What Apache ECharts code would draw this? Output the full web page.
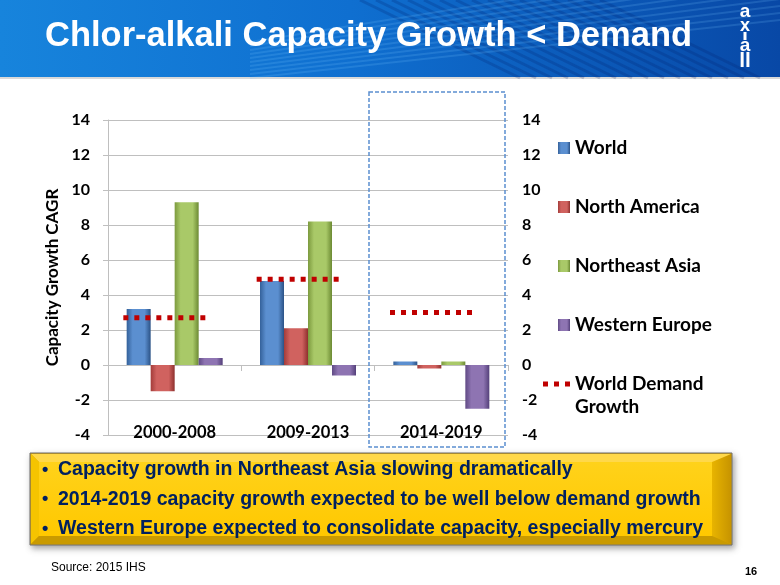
<!DOCTYPE html>
<html>
<head>
<meta charset="utf-8">
<script src="https://cdn.jsdelivr.net/npm/echarts/dist/echarts.min.js"></script>
<style>
html,body{margin:0;padding:0;background:#fff;}
#chart{width:780px;height:585px;}
</style>
</head>
<body>
<div id="chart"></div>
<script>
// ---- data ----
var categories = ['2000-2008', '2009-2013', '2014-2019'];
var world = [3.2, 4.8, 0.2];
var northAmerica = [-1.5, 2.1, -0.2];
var northeastAsia = [9.3, 8.2, 0.2];
var westernEurope = [0.4, -0.6, -2.5];
var worldDemand = [2.7, 4.9, 3.0];
var yTicks = { min: -4, max: 14, interval: 2 };
var bullets = [
  'Capacity growth in Northeast Asia slowing dramatically',
  '2014-2019 capacity growth expected to be well below demand growth',
  'Western Europe expected to consolidate capacity, especially mercury'
];

var calibri = 'Lato, "Open Sans", sans-serif';
var arial = '"Liberation Sans", Arial, sans-serif';

function barGrad(dark, mid, dark2) {
  return new echarts.graphic.LinearGradient(0, 0, 1, 0, [
    { offset: 0, color: dark },
    { offset: 0.25, color: mid },
    { offset: 0.75, color: mid },
    { offset: 1, color: dark2 }
  ]);
}

function barSeries(name, data, c) {
  return {
    name: name, type: 'bar', data: data,
    xAxisIndex: 0, yAxisIndex: 0,
    barGap: '0%', barCategoryGap: '28%',
    itemStyle: { color: c },
    emphasis: { disabled: true }
  };
}

var chart = echarts.init(document.getElementById('chart'), null, { renderer: 'canvas' });

// banner stripes
var stripes = [];
for (var i = 0; i < 16; i++) {
  stripes.push({
    type: 'line', silent: true, z: 1,
    shape: { x1: 360 + i * 16, y1: 0, x2: 520 + i * 16, y2: 78 },
    style: { stroke: 'rgba(0,30,110,0.22)', lineWidth: 3 }
  });
}
for (var j = 0; j < 10; j++) {
  stripes.push({
    type: 'line', silent: true, z: 1,
    shape: { x1: 250, y1: 78 - j * 4, x2: 780, y2: 20 - j * 7 },
    style: { stroke: 'rgba(120,200,255,0.18)', lineWidth: 2 }
  });
}

var graphics = [
  { type: 'rect', silent: true, z: 0, shape: { x: 0, y: 0, width: 780, height: 77 },
    style: { fill: new echarts.graphic.LinearGradient(0, 0, 1, 0, [
      { offset: 0, color: '#1784dc' }, { offset: 0.45, color: '#0f6fd0' }, { offset: 1, color: '#0848a6' }]) } },
  { type: 'rect', silent: true, z: 1, shape: { x: 0, y: 77, width: 780, height: 2 }, style: { fill: '#d9d9d9' } }
].concat(stripes).concat([
  { type: 'text', silent: true, z: 5, style: { text: 'Chlor-alkali Capacity Growth < Demand', x: 45, y: 36,
      fill: '#ffffff', font: 'bold 34.5px ' + arial, verticalAlign: 'middle' } },
  // logo
  { type: 'text', silent: true, z: 5, style: { text: 'a', x: 745, y: 12, fill: '#fff', font: 'bold 19px ' + arial, align: 'center', verticalAlign: 'middle' } },
  { type: 'text', silent: true, z: 5, style: { text: 'x', x: 745, y: 26, fill: '#fff', font: 'bold 18px ' + arial, align: 'center', verticalAlign: 'middle' } },
  { type: 'rect', silent: true, z: 5, shape: { x: 743.5, y: 32, width: 3, height: 8 }, style: { fill: '#fff' } },
  { type: 'text', silent: true, z: 5, style: { text: 'a', x: 745, y: 46, fill: '#fff', font: 'bold 19px ' + arial, align: 'center', verticalAlign: 'middle' } },
  { type: 'text', silent: true, z: 5, style: { text: 'll', x: 745, y: 61, fill: '#fff', font: 'bold 21px ' + arial, align: 'center', verticalAlign: 'middle' } },
  // dashed highlight box
  { type: 'rect', silent: true, z: 10, shape: { x: 369, y: 92, width: 136, height: 355 },
    style: { fill: 'none', stroke: '#5b8fd0', lineWidth: 1.5, lineDash: [4, 2] } },
  // bullet box with bevel
  { type: 'rect', silent: true, z: 5, shape: { x: 30, y: 453, width: 702, height: 92 },
    style: { fill: '#e0a800', stroke: '#6f6f6f', lineWidth: 1, shadowBlur: 6, shadowColor: 'rgba(0,0,0,0.35)', shadowOffsetX: 2, shadowOffsetY: 3 } },
  { type: 'polygon', silent: true, z: 6, shape: { points: [[31, 454], [731, 454], [723, 462], [39, 462]] }, style: { fill: '#ffd84a' } },
  { type: 'polygon', silent: true, z: 6, shape: { points: [[31, 454], [39, 462], [39, 536], [31, 544]] }, style: { fill: '#f5c400' } },
  { type: 'polygon', silent: true, z: 6, shape: { points: [[731, 454], [731, 544], [712, 536], [712, 462]] },
    style: { fill: new echarts.graphic.LinearGradient(0, 0, 1, 0, [{ offset: 0, color: '#e8b400' }, { offset: 1, color: '#c79400' }]) } },
  { type: 'polygon', silent: true, z: 6, shape: { points: [[31, 544], [39, 536], [712, 536], [731, 544]] }, style: { fill: '#c99a00' } },
  { type: 'rect', silent: true, z: 6, shape: { x: 39, y: 462, width: 673, height: 74 },
    style: { fill: new echarts.graphic.LinearGradient(0, 0, 0, 1, [{ offset: 0, color: '#ffd21a' }, { offset: 1, color: '#ffc800' }]) } }
]);

bullets.forEach(function (b, k) {
  var y = 470 + k * 29.5;
  graphics.push({ type: 'text', silent: true, z: 8, style: { text: '\u2022', x: 42, y: y, fill: '#002060', font: 'bold 18px ' + arial, verticalAlign: 'middle' } });
  graphics.push({ type: 'text', silent: true, z: 8, style: { text: b, x: 58, y: y, fill: '#002060', font: 'bold 19.5px ' + arial, verticalAlign: 'middle' } });
});
graphics.push({ type: 'text', silent: true, z: 8, style: { text: 'Source: 2015 IHS', x: 51, y: 568, fill: '#000', font: '12px ' + arial, verticalAlign: 'middle' } });
graphics.push({ type: 'text', silent: true, z: 8, style: { text: '16', x: 745, y: 572, fill: '#000', font: 'bold 11px ' + arial, verticalAlign: 'middle' } });
graphics.push({ type: 'text', silent: true, z: 8, style: { text: 'Growth', x: 575, y: 407, fill: '#000', font: 'bold 19px ' + calibri, verticalAlign: 'middle' } });

var option = {
  animation: false,
  backgroundColor: '#ffffff',
  grid: { left: 108, right: 272, top: 120, bottom: 150, containLabel: false },
  legend: [
    {
      data: ['World', 'North America', 'Northeast Asia', 'Western Europe'],
      orient: 'vertical', left: 553, top: 133, itemWidth: 12, itemHeight: 12, itemGap: 39,
      icon: 'rect', selectedMode: false,
      textStyle: { fontFamily: calibri, fontWeight: 'bold', fontSize: 19, color: '#000', lineHeight: 20 }
    },
    {
      data: [{ name: 'World Demand Growth', icon: 'path://M0,0h5v5h-5zM11,0h5v5h-5zM22,0h5v5h-5z' }],
      orient: 'vertical', left: 538, top: 369, itemWidth: 27, itemHeight: 5, selectedMode: false,
      formatter: function () { return 'World Demand'; },
      textStyle: { fontFamily: calibri, fontWeight: 'bold', fontSize: 19, color: '#000', lineHeight: 20 }
    }
  ],
  xAxis: [
    {
      type: 'category', data: categories, position: 'bottom',
      axisLine: { show: false, onZero: false }, axisTick: { show: false },
      axisLabel: { margin: -11, fontFamily: calibri, fontWeight: 'bold', fontSize: 16.5, color: '#000' },
      splitLine: { show: false }
    },
    {
      type: 'category', data: categories, position: 'bottom',
      axisLine: { show: true, onZero: true, lineStyle: { color: '#bfbfbf', width: 1 } },
      axisTick: { show: true, length: 6, lineStyle: { color: '#bfbfbf' } },
      axisLabel: { show: false }, splitLine: { show: false }
    }
  ],
  yAxis: [
    {
      type: 'value', min: yTicks.min, max: yTicks.max, interval: yTicks.interval, position: 'left',
      name: 'Capacity Growth CAGR', nameLocation: 'middle', nameRotate: 90, nameGap: 40,
      nameTextStyle: { fontFamily: calibri, fontWeight: 'bold', fontSize: 17, color: '#000' },
      axisLine: { show: true, lineStyle: { color: '#bfbfbf' } },
      axisTick: { show: true, length: 5, lineStyle: { color: '#bfbfbf' } },
      axisLabel: { margin: 18, fontFamily: calibri, fontWeight: 'bold', fontSize: 16, color: '#000' },
      splitLine: { show: true, lineStyle: { color: '#bfbfbf', width: 1 } }
    },
    {
      type: 'value', min: yTicks.min, max: yTicks.max, interval: yTicks.interval, position: 'right',
      axisLine: { show: false }, axisTick: { show: false }, splitLine: { show: false },
      axisLabel: { margin: 14, fontFamily: calibri, fontWeight: 'bold', fontSize: 16, color: '#000' }
    }
  ],
  series: [
    barSeries('World', world, barGrad('#34619a', '#5b8fd0', '#2b5286')),
    barSeries('North America', northAmerica, barGrad('#a33c3a', '#d0625f', '#8e302e')),
    barSeries('Northeast Asia', northeastAsia, barGrad('#7c9a3e', '#a9c968', '#6c8a33')),
    barSeries('Western Europe', westernEurope, barGrad('#604a85', '#8e74b2', '#54407a')),
    {
      name: 'World Demand Growth', type: 'custom', xAxisIndex: 0, yAxisIndex: 0, z: 5,
      itemStyle: { color: '#c00000' },
      data: categories.map(function (c, i) { return [i, worldDemand[i]]; }),
      encode: { x: 0, y: 1 },
      renderItem: function (params, api) {
        var c = api.coord([api.value(0), api.value(1)]);
        var bw = api.size([1, 0])[0];
        return {
          type: 'line',
          shape: { x1: c[0] - 0.385 * bw, y1: c[1], x2: c[0] + 0.275 * bw, y2: c[1] },
          style: { stroke: '#c00000', lineWidth: 5, lineDash: [5, 6], fill: null }
        };
      }
    }
  ],
  graphic: graphics
};
chart.setOption(option);
</script>
</body>
</html>
